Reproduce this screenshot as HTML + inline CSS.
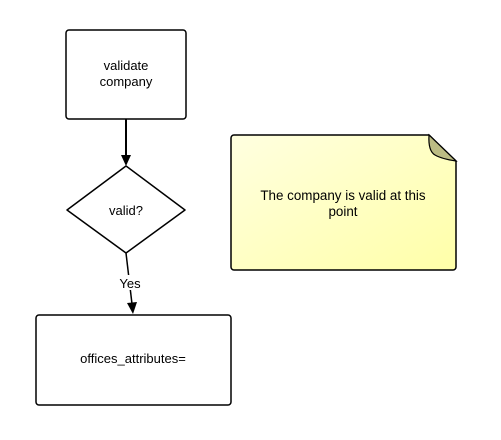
<!DOCTYPE html>
<html><head><style>body{margin:0;background:#fff}</style></head><body>
<svg width="501" height="435" xmlns="http://www.w3.org/2000/svg" font-family="Liberation Sans, sans-serif" font-size="13">
<defs><linearGradient id="g" x1="0" y1="0" x2="1" y2="1"><stop offset="0" stop-color="#ffffe0"/><stop offset="1" stop-color="#ffffa8"/></linearGradient></defs>
<rect x="66" y="30" width="120" height="89" rx="3" fill="#fff" stroke="#000" stroke-width="1.5"/>
<text x="126" y="70" text-anchor="middle">validate</text>
<text x="126" y="86" text-anchor="middle">company</text>
<line x1="126" y1="119" x2="126" y2="156" stroke="#000" stroke-width="2"/>
<polygon points="121,155 131,155 126,166" fill="#000"/>
<polygon points="126,166 185,210 126,253 67,210" fill="#fff" stroke="#000" stroke-width="1.5" stroke-linejoin="round"/>
<text x="126" y="215" text-anchor="middle">valid?</text>
<line x1="126" y1="253" x2="132" y2="304" stroke="#000" stroke-width="1.5"/>
<rect x="118" y="275" width="26" height="15" fill="#fff"/>
<text x="130" y="288" text-anchor="middle">Yes</text>
<polygon points="127,303 137,302 133,314" fill="#000"/>
<rect x="36" y="315" width="195" height="90" rx="3" fill="#fff" stroke="#000" stroke-width="1.5"/>
<text x="133" y="363" text-anchor="middle">offices_attributes=</text>
<path d="M234,135 H429 L456,161 V267 a3,3 0 0 1 -3,3 H234 a3,3 0 0 1 -3,-3 V138 a3,3 0 0 1 3,-3 Z" fill="url(#g)" stroke="#000" stroke-width="1.5"/>
<path d="M429,135 Q428,151 435,155 Q442,159 456,161 Z" fill="#bcbc84" stroke="#000" stroke-width="1.2"/>
<text x="343" y="200" text-anchor="middle" font-size="13.4">The company is valid at this</text>
<text x="343" y="216" text-anchor="middle" font-size="13.4">point</text>
</svg>
</body></html>
